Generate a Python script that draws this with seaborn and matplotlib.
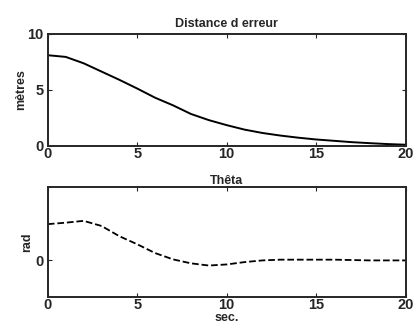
import matplotlib
matplotlib.use('Agg')
import matplotlib.pyplot as plt
import seaborn as sns
import pandas as pd

# values
t = [0, 1, 2, 3, 4, 5, 6, 7, 8, 9, 10, 11, 12, 13, 14, 15, 16, 17, 18, 19, 20]
distance = [8.1, 7.95, 7.38, 6.64, 5.9, 5.12, 4.3, 3.62, 2.85, 2.3, 1.85,
            1.45, 1.15, 0.92, 0.73, 0.57, 0.45, 0.33, 0.24, 0.16, 0.1]
theta = [0.495, 0.515, 0.54, 0.47, 0.33, 0.22, 0.10, 0.014, -0.04, -0.07, -0.055,
         -0.023, 0.0, 0.01, 0.01, 0.01, 0.01, 0.005, 0.0, 0.0, 0.0]
x_ticks = [0, 5, 10, 15, 20]

df = pd.DataFrame({'t': t, 'distance': distance, 'theta': theta})

sns.set_style('ticks')
plt.rcParams['font.family'] = ['Liberation Sans', 'DejaVu Sans']
plt.rcParams['font.weight'] = 'bold'
plt.rcParams['xtick.direction'] = 'in'
plt.rcParams['ytick.direction'] = 'in'
plt.rcParams['xtick.top'] = True
plt.rcParams['ytick.right'] = True

fig = plt.figure(figsize=(4.16, 3.33), dpi=100)
ax1 = fig.add_axes([0.115, 0.562, 0.86, 0.336])
ax2 = fig.add_axes([0.115, 0.108, 0.86, 0.330])

sns.lineplot(data=df, x='t', y='distance', ax=ax1, color='black', linewidth=1.4)
ax1.set_xlim(0, 20)
ax1.set_ylim(0, 10)
ax1.set_xticks(x_ticks)
ax1.set_yticks([0, 5, 10])
ax1.set_title('Distance d erreur', fontsize=9, fontweight='bold', pad=5)
ax1.set_ylabel('mètres', fontsize=9, fontweight='bold', labelpad=0)
ax1.set_xlabel('')

sns.lineplot(data=df, x='t', y='theta', ax=ax2, color='black', linewidth=1.3,
             linestyle='--')
ax2.set_xlim(0, 20)
ax2.set_ylim(-0.5, 1)
ax2.set_xticks(x_ticks)
ax2.set_yticks([0])
ax2.set_title('Thêta', fontsize=9, fontweight='bold', pad=2)
ax2.set_ylabel('rad', fontsize=9, fontweight='bold', labelpad=2)
ax2.set_xlabel('sec.', fontsize=9, fontweight='bold', labelpad=0)

for ax in (ax1, ax2):
    ax.tick_params(labelsize=10.5, length=3, width=0.8)
    ax.tick_params(axis='x', pad=1)
    ax.tick_params(axis='y', pad=3)
    for s in ax.spines.values():
        s.set_linewidth(1.4)
        s.set_visible(True)
    for lab in ax.get_xticklabels() + ax.get_yticklabels():
        lab.set_fontweight('bold')

fig.savefig('out.png', dpi=100)
